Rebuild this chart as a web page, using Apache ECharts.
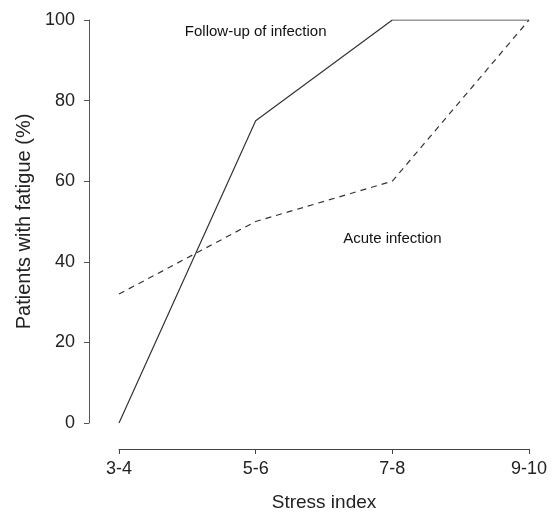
<!DOCTYPE html>
<html>
<head>
<meta charset="utf-8">
<script src="https://cdn.jsdelivr.net/npm/echarts@6/dist/echarts.min.js"></script>
<style>html,body{margin:0;padding:0;background:#fff}#c{width:558px;height:514px}</style>
</head>
<body>
<div id="c"></div>
<script>
var categories = ['3-4', '5-6', '7-8', '9-10'];
var followUp = [0, 75, 100, 100];
var acute = [32, 50, 60, 100];
var yTicks = [0, 20, 40, 60, 80, 100];
var annotations = [
  { text: 'Follow-up of infection', cat: 0.98, val: 97 },
  { text: 'Acute infection', cat: 2.01, val: 45.6 }
];

var font = '"Liberation Sans", Arial, Helvetica, sans-serif';
var chart = echarts.init(document.getElementById('c'));
chart.setOption({
  animation: false,
  backgroundColor: '#fff',
  grid: { left: 119, right: 29, top: 20, bottom: 91, containLabel: false, outerBoundsMode: 'none' },
  xAxis: {
    type: 'category',
    data: categories,
    boundaryGap: false,
    offset: 26,
    name: 'Stress index',
    nameLocation: 'middle',
    nameGap: 44,
    nameTextStyle: { fontFamily: font, fontSize: 19, color: '#222' },
    axisLine: { onZero: false, lineStyle: { color: '#444', width: 1 } },
    axisTick: { show: true, inside: false, length: 5, alignWithLabel: true, lineStyle: { color: '#444' } },
    axisLabel: { fontFamily: font, fontSize: 18, color: '#222', margin: 11 },
    splitLine: { show: false }
  },
  yAxis: {
    type: 'value',
    min: 0, max: 100, interval: 20,
    offset: 30,
    name: 'Patients with fatigue (%)',
    nameLocation: 'middle',
    nameGap: 53,
    nameTextStyle: { fontFamily: font, fontSize: 20, color: '#222' },
    axisLine: { show: true, onZero: false, lineStyle: { color: '#555', width: 1 } },
    axisTick: { show: true, length: 5, lineStyle: { color: '#555' } },
    axisLabel: { fontFamily: font, fontSize: 18, color: '#222', margin: 14,
      formatter: function (v) { return yTicks.indexOf(v) >= 0 ? String(v) : ''; } },
    splitLine: { show: false }
  },
  series: [
    {
      name: 'Follow-up of infection',
      type: 'line',
      data: followUp,
      symbol: 'none',
      lineStyle: { color: '#333', width: 1.2, type: 'solid' },
      markPoint: {
        symbol: 'circle', symbolSize: 0,
        label: { show: true, position: 'inside', fontFamily: font, fontSize: 15, color: '#111',
          formatter: function (p) { return p.name; } },
        data: [{ name: annotations[0].text, coord: [annotations[0].cat, annotations[0].val] }]
      }
    },
    {
      name: 'Acute infection',
      type: 'line',
      data: acute,
      symbol: 'none',
      lineStyle: { color: '#333', width: 1.2, type: [6, 5] },
      markPoint: {
        symbol: 'circle', symbolSize: 0,
        label: { show: true, position: 'inside', fontFamily: font, fontSize: 15, color: '#111',
          formatter: function (p) { return p.name; } },
        data: [{ name: annotations[1].text, coord: [annotations[1].cat, annotations[1].val] }]
      }
    }
  ]
});
</script>
</body>
</html>
